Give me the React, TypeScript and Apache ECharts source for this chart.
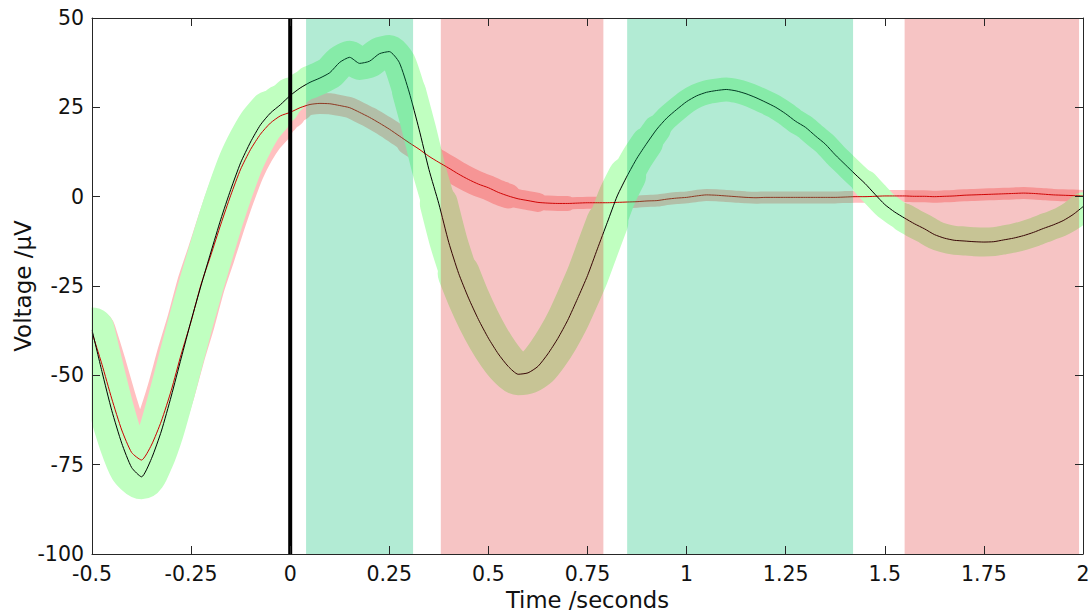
import React, { useEffect, useRef } from "react";
import * as echarts from "echarts";

// ---- data ----
const times = [
  -0.5, -0.475, -0.45, -0.425, -0.4, -0.375, -0.35, -0.325, -0.3, -0.275,
  -0.25, -0.225, -0.2, -0.175, -0.15, -0.125, -0.1, -0.075, -0.05, -0.025,
  0, 0.025, 0.05, 0.075, 0.1, 0.125, 0.15, 0.175, 0.2, 0.225,
  0.25, 0.275, 0.3, 0.325, 0.35, 0.375, 0.4, 0.425, 0.45, 0.475,
  0.5, 0.525, 0.55, 0.575, 0.6, 0.625, 0.65, 0.675, 0.7, 0.725,
  0.75, 0.775, 0.8, 0.825, 0.85, 0.875, 0.9, 0.925, 0.95, 0.975,
  1, 1.025, 1.05, 1.075, 1.1, 1.125, 1.15, 1.175, 1.2, 1.225,
  1.25, 1.275, 1.3, 1.325, 1.35, 1.375, 1.4, 1.425, 1.45, 1.475,
  1.5, 1.525, 1.55, 1.575, 1.6, 1.625, 1.65, 1.675, 1.7, 1.725,
  1.75, 1.775, 1.8, 1.825, 1.85, 1.875, 1.9, 1.925, 1.95, 1.975,
  2,
];

const greenMean = [
  -37.3, -48.9, -59.9, -69.0, -75.8, -78.4, -73.3, -65.6, -55.8, -45.2,
  -34.7, -24.9, -15.5, -6.3, 2.0, 9.5, 15.3, 20.1, 23.4, 25.7,
  28.3, 30.4, 32.0, 33.2, 34.7, 37.6, 39.0, 37.3, 37.9, 40.0,
  40.6, 37.6, 29.3, 18.9, 7.6, -2.0, -12.8, -21.5, -28.4, -34.4,
  -39.6, -44.0, -47.5, -49.7, -49.3, -47.5, -44.0, -39.7, -34.6, -28.5,
  -22.1, -14.6, -7.2, 0.2, 5.8, 10.8, 15.0, 18.9, 22.0, 24.4,
  26.6, 28.2, 29.2, 29.7, 30.0, 29.6, 28.8, 27.7, 26.4, 25.0,
  23.2, 21.1, 19.4, 17.0, 14.7, 11.7, 9.0, 6.3, 3.7, 0.7,
  -2.2, -4.3, -6.0, -7.6, -9.0, -10.6, -11.6, -12.2, -12.4, -12.6,
  -12.7, -12.6, -12.1, -11.6, -10.9, -10.0, -8.9, -7.9, -6.7, -5.0,
  -2.8,
];

const redMean = [
  -38.0, -46.9, -56.6, -65.3, -71.6, -73.7, -69.5, -62.8, -54.2, -44.1,
  -34.9, -24.6, -16.3, -7.7, 0.4, 7.7, 13.2, 17.5, 20.6, 22.6,
  23.6, 24.9, 25.8, 26.1, 26.0, 25.5, 24.9, 23.6, 22.2, 20.6,
  18.9, 17.0, 15.1, 13.3, 11.3, 9.6, 8.0, 6.3, 4.8, 3.5,
  2.5, 1.2, 0.2, -0.6, -1.1, -1.6, -1.8, -1.9, -1.9, -1.8,
  -1.7, -1.7, -1.7, -1.6, -1.5, -1.4, -1.2, -1.1, -0.7, -0.4,
  -0.2, 0.2, 0.5, 0.4, 0.2, 0.0, -0.2, -0.3, -0.2, -0.2,
  -0.2, -0.2, -0.2, -0.2, -0.2, -0.2, -0.1, 0.0, 0.0, 0.1,
  0.2, 0.2, 0.2, 0.1, 0.1, 0.0, 0.1, 0.2, 0.4, 0.5,
  0.6, 0.7, 0.8, 0.9, 1.0, 0.9, 0.7, 0.5, 0.4, 0.3,
  0.2,
];

// analysis windows
const windowStart = [0.04, 0.38, 0.85, 1.55];
const windowEnd = [0.31, 0.79, 1.42, 1.99];
const windowKind = ["green", "red", "green", "red"];

const stimulusOnset = 0;

const xMin = -0.5;
const xMax = 2;
const xStep = 0.25;
const yMin = -100;
const yMax = 50;
const yStep = 25;

// ---- styles (band thickness in px per time range) ----
const GREEN_BAND: [number, number, number][] = [
  [-0.5, -0.05, 45],
  [-0.05, -0.025, 40],
  [-0.025, 0.0, 36],
  [0.0, 0.05, 31],
  [0.05, 0.3, 33],
  [0.3, 0.375, 34],
  [0.375, 0.425, 38],
  [0.425, 0.8, 42],
  [0.8, 0.85, 38],
  [0.85, 0.9, 32],
  [0.9, 0.925, 28],
  [0.925, 1.45, 24],
  [1.45, 1.55, 27],
  [1.55, 2.0, 29],
];
const RED_BAND: [number, number, number][] = [
  [-0.5, -0.05, 48],
  [-0.05, -0.025, 40],
  [-0.025, 0.0, 32],
  [0.0, 0.025, 26],
  [0.025, 0.3, 21],
  [0.3, 0.55, 25],
  [0.55, 0.625, 19],
  [0.625, 0.7, 15],
  [0.7, 2.0, 12],
];

const GREEN_BAND_COLOR = "#c0ffc0";
const RED_BAND_COLOR = "#ffc0c0";
const GREEN_SHADE = "rgba(0,188,112,0.30)";
const RED_SHADE = "rgba(219,19,19,0.25)";
const FONT = "DejaVu Sans";
const AXIS_COLOR = "#262626";

const W = 1089;
const H = 614;
const G_LEFT = 92;
const G_RIGHT = 6;
const G_TOP = 18;
const G_BOTTOM = 60;

function pairs(vals: number[]) {
  return times.map((t, i) => [t, vals[i]]);
}

function bandSeries(vals: number[], segs: [number, number, number][], color: string, z: number) {
  const all = pairs(vals);
  return segs.map(([a, b, w]) => ({
    type: "line",
    data: all.filter(([t]) => t >= a - 1e-9 && t <= b + 1e-9),
    symbol: "none",
    showSymbol: false,
    smooth: 0.2,
    silent: true,
    clip: true,
    z,
    lineStyle: { width: w, color, cap: "round", join: "round" },
  }));
}

export default function App() {
  const ref = useRef<HTMLDivElement>(null);
  useEffect(() => {
    document.body.style.margin = "0";
    if (!ref.current) return;
    const chart = echarts.init(ref.current, undefined, { renderer: "svg" });

    const axisCommon = {
      type: "value",
      splitLine: { show: false },
      axisLine: { show: true, onZero: false, lineStyle: { color: AXIS_COLOR, width: 1 } },
      axisTick: { show: true, inside: true, length: 8, lineStyle: { color: AXIS_COLOR } },
      nameMoveOverlap: false,
      z: 20,
    };

    const mask = (x: number, y: number, w: number, h: number) => ({
      type: "rect",
      shape: { x, y, width: w, height: h },
      style: { fill: "#ffffff" },
      z: 15,
      silent: true,
    });

    const option: any = {
      animation: false,
      grid: {
        left: G_LEFT,
        right: G_RIGHT,
        top: G_TOP,
        bottom: G_BOTTOM,
        containLabel: false,
        outerBoundsMode: "none",
      },
      graphic: [
        mask(0, 0, G_LEFT - 0.5, H),
        mask(W - G_RIGHT + 0.5, 0, G_RIGHT, H),
        mask(0, 0, W, G_TOP - 0.5),
        mask(0, H - G_BOTTOM + 0.5, W, G_BOTTOM),
      ],
      xAxis: [
        {
          ...axisCommon,
          min: xMin,
          max: xMax,
          interval: xStep,
          position: "bottom",
          axisLabel: { fontSize: 20.5, color: "#111", fontFamily: FONT, margin: 9 },
          name: "Time /seconds",
          nameLocation: "middle",
          nameGap: 34,
          nameTextStyle: { fontSize: 22.7, color: "#111", fontFamily: FONT },
        },
        {
          ...axisCommon,
          min: xMin,
          max: xMax,
          interval: xStep,
          position: "top",
          axisLabel: { show: false },
        },
      ],
      yAxis: [
        {
          ...axisCommon,
          min: yMin,
          max: yMax,
          interval: yStep,
          position: "left",
          axisLabel: { fontSize: 20.5, color: "#111", fontFamily: FONT, margin: 8 },
          name: "Voltage /µV",
          nameLocation: "middle",
          nameGap: 58,
          nameRotate: 90,
          nameTextStyle: { fontSize: 23, color: "#111", fontFamily: FONT },
        },
        {
          ...axisCommon,
          min: yMin,
          max: yMax,
          interval: yStep,
          position: "right",
          axisLabel: { show: false },
        },
      ],
      series: [
        ...bandSeries(redMean, RED_BAND, RED_BAND_COLOR, 2),
        ...bandSeries(greenMean, GREEN_BAND, GREEN_BAND_COLOR, 3),
        {
          type: "line",
          data: pairs(redMean),
          symbol: "none",
          smooth: 0.2,
          silent: true,
          z: 4,
          lineStyle: { width: 1, color: "#cc0000" },
        },
        {
          type: "line",
          data: pairs(greenMean),
          symbol: "none",
          smooth: 0.2,
          silent: true,
          z: 5,
          lineStyle: { width: 1, color: "#000000" },
        },
        {
          type: "custom",
          silent: true,
          z: 8,
          clip: true,
          data: windowStart.map((s, i) => [s, windowEnd[i], windowKind[i] === "green" ? 0 : 1]),
          renderItem: (_params: any, api: any) => {
            const s = api.value(0);
            const e = api.value(1);
            const k = api.value(2);
            const p0 = api.coord([s, yMax]);
            const p1 = api.coord([e, yMin]);
            return {
              type: "rect",
              shape: { x: p0[0], y: p0[1], width: p1[0] - p0[0], height: p1[1] - p0[1] },
              style: { fill: k === 0 ? GREEN_SHADE : RED_SHADE },
            };
          },
        },
        {
          type: "line",
          data: [
            [stimulusOnset, yMin],
            [stimulusOnset, yMax],
          ],
          symbol: "none",
          silent: true,
          z: 9,
          lineStyle: { width: 4, color: "#000000" },
        },
      ],
    };
    chart.setOption(option);
    return () => chart.dispose();
  }, []);
  return <div ref={ref} style={{ width: W, height: H }} />;
}
